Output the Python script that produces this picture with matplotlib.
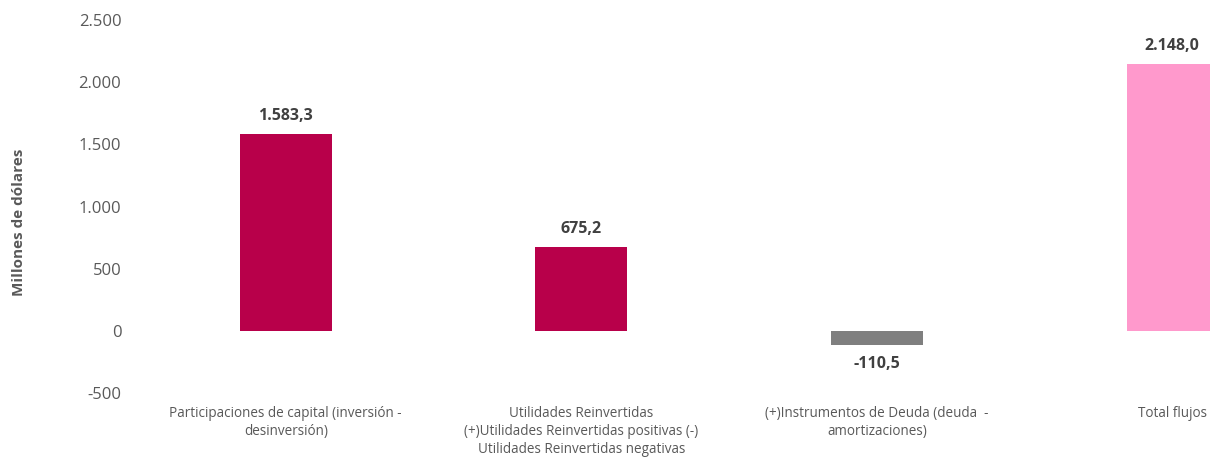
import matplotlib.pyplot as plt

# =========================
# DATA
# =========================
categorias = [
    "Participaciones de capital (inversión -\ndesinversión)",
    "Utilidades Reinvertidas\n(+)Utilidades Reinvertidas positivas (-)\nUtilidades Reinvertidas negativas",
    "(+)Instrumentos de Deuda (deuda  -\namortizaciones)",
    "Total flujos",
]
valores = [1583.3, 675.2, -110.5, 2148.0]
etiquetas = ["1.583,3", "675,2", "-110,5", "2.148,0"]
colores = ["#B8004A", "#B8004A", "#7F7F7F", "#FF99CC"]

yticks = [-500, 0, 500, 1000, 1500, 2000, 2500]
ytick_labels = ["-500", "0", "500", "1.000", "1.500", "2.000", "2.500"]

# =========================
# PLOT
# =========================
plt.rcParams["font.family"] = ["Open Sans", "DejaVu Sans"]

fig = plt.figure(figsize=(12.1, 4.57), dpi=100)
ax = fig.add_axes([0.114, 0.140, 0.977, 0.816])

x = list(range(len(valores)))
ax.bar(x, valores, width=0.31, color=colores)

for xi, v, lab in zip(x, valores, etiquetas):
    if v >= 0:
        ax.annotate(lab, (xi, v), xytext=(0, 7), textcoords="offset points",
                    ha="center", va="bottom", fontsize=11.5, fontweight="bold",
                    color="#404040")
    else:
        ax.annotate(lab, (xi, v), xytext=(0, -8), textcoords="offset points",
                    ha="center", va="top", fontsize=11.5, fontweight="bold",
                    color="#404040")

ax.set_xlim(-0.5, 3.5)
ax.set_ylim(-500, 2500)
ax.set_yticks(yticks)
ax.set_yticklabels(ytick_labels, fontsize=12, color="#595959")
ax.set_xticks(x)
ax.set_xticklabels(categorias, fontsize=9.75, color="#595959", linespacing=1.3)
ax.tick_params(length=0, axis="y", pad=12)
ax.tick_params(length=0, axis="x", pad=9)

for s in ax.spines.values():
    s.set_visible(False)

fig.text(0.016, 0.514, "Millones de dólares", rotation=90, ha="center",
         va="center", fontsize=11, fontweight="bold", color="#595959")

fig.savefig("out.png", dpi=100)
